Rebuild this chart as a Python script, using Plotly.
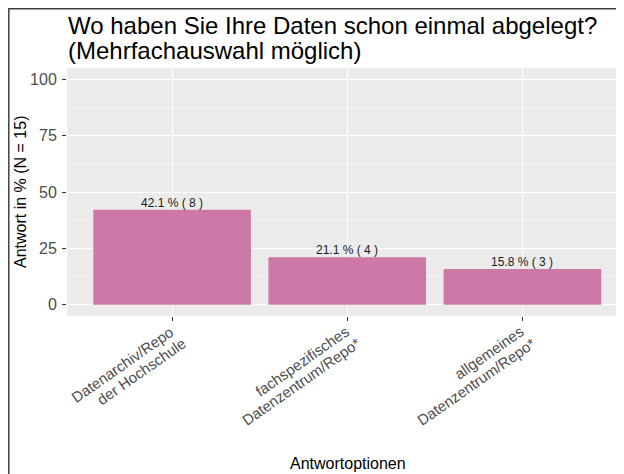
import plotly.graph_objects as go

# data =================================
categories = ["Datenarchiv/Repo<br>der Hochschule",
              "fachspezifisches<br>Datenzentrum/Repo*",
              "allgemeines<br>Datenzentrum/Repo*"]
percent = [42.1, 21.1, 15.8]
counts = [8, 4, 3]
y_ticks = [0, 25, 50, 75, 100]
title_lines = ["Wo haben Sie Ihre Daten schon einmal abgelegt?",
               "(Mehrfachauswahl möglich)"]

# the page keeps the default 8px body margin, so the figure is drawn
# 8px in from the window corner; sizes below are in figure pixels
OFF = 8
W, H = 616, 466
L, R, T, B = 59, 0, 60, 158


def px_x(x):  # window pixel -> paper
    return (x - OFF - L) / (W - L - R)

def px_y(y):
    return (H - B - (y - OFF)) / (H - T - B)


font = "Liberation Sans, Arial, sans-serif"
bar_color = "#CC79A7"
tick_grey = "#4D4D4D"

fig = go.Figure()
fig.add_trace(go.Bar(
    x=categories, y=percent, width=0.9,
    marker=dict(color=bar_color, line=dict(width=0)),
    hoverinfo="skip",
))

# labels over the bars
for c, p, n in zip(categories, percent, counts):
    fig.add_annotation(x=c, y=p, text=f"{p} % ( {n} )", showarrow=False,
                       yanchor="bottom", yshift=-2,
                       font=dict(family=font, size=12, color="#1a1a1a"))

# rotated category labels, one annotation per line so the line spacing
# stays as tight as in the reference (plotly's tick labels use 1.3)
for c in categories:
    for i, line in enumerate(c.split("<br>")):
        fig.add_annotation(x=c, xref="x", yref="paper", y=px_y(320 + 11.5 * i),
                           xshift=7 + 12 * i, text=line, textangle=-35,
                           xanchor="right", yanchor="top", showarrow=False,
                           font=dict(family=font, size=15, color=tick_grey))

fig.update_xaxes(
    type="category", range=[-0.6, 2.58], automargin=False,
    showgrid=True, gridcolor="white", gridwidth=1.1,
    ticks="outside", ticklen=4, tickcolor="#333333", tickwidth=1,
    showticklabels=False, showline=False, zeroline=False,
)
fig.update_yaxes(
    range=[-5, 105], tickvals=y_ticks, automargin=False,
    showgrid=True, gridcolor="white", gridwidth=1.1,
    minor=dict(dtick=12.5, tick0=12.5, showgrid=True, gridcolor="#F6F6F6", gridwidth=0.6),
    ticks="outside", ticklen=4, tickcolor="#333333", tickwidth=1,
    tickfont=dict(family=font, size=16, color=tick_grey),
    ticklabelstandoff=2,
    showline=False, zeroline=False,
)

# title, two lines placed separately to keep the tight spacing
for line, yc in zip(title_lines, [25, 51]):
    fig.add_annotation(xref="paper", yref="paper", x=px_x(66), y=px_y(yc),
                       xanchor="left", yanchor="middle", align="left", showarrow=False,
                       text=line, font=dict(family=font, size=24, color="black"))

fig.add_annotation(xref="paper", yref="paper", x=px_x(20), y=px_y(192),
                   xanchor="center", yanchor="middle",
                   textangle=-90, showarrow=False,
                   text="Antwort in % (N = 15)",
                   font=dict(family=font, size=16, color="black"))
fig.add_annotation(xref="paper", yref="paper", x=px_x(348), y=px_y(463),
                   xanchor="center", yanchor="middle",
                   showarrow=False, text="Antwortoptionen",
                   font=dict(family=font, size=16, color="black"))

# frame of the screenshot (left and top)
fig.add_shape(type="path", xref="paper", yref="paper",
              path=f"M {px_x(8.8)} {px_y(480)} L {px_x(8.8)} {px_y(8.8)} L {px_x(630)} {px_y(8.8)}",
              line=dict(color="#404040", width=1.5))

fig.update_layout(
    width=W, height=H,
    margin=dict(l=L, r=R, t=T, b=B, pad=0),
    paper_bgcolor="white", plot_bgcolor="#EBEBEB",
    showlegend=False, bargap=0.1,
    font=dict(family=font),
)

fig.write_html("out.html")
